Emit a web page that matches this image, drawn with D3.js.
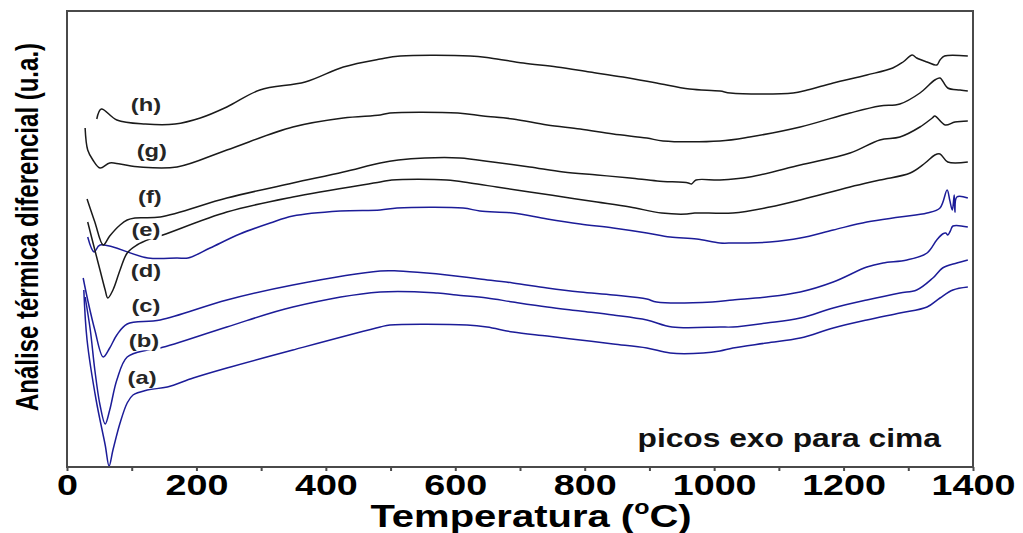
<!DOCTYPE html>
<html><head><meta charset="utf-8">
<script src="https://cdn.jsdelivr.net/npm/d3@7"></script>
<style>
body{margin:0;background:#fff;}
svg text{font-family:Arial,"Liberation Sans",sans-serif;font-weight:bold;}
</style></head><body>
<svg id="chart" width="1023" height="533"></svg>
<script>
// ---- data (temperature °C, DTA signal in arbitrary units) ----
const xTicks = [0,100,200,300,400,500,600,700,800,900,1000,1100,1200,1300,1400];
const xTickLabels = ["0","","200","","400","","600","","800","","1000","","1200","","1400"];
const seriesNames = ["(a)","(b)","(c)","(d)","(e)","(f)","(g)","(h)"];
const seriesColors = ["#1c1c98","#1c1c98","#1c1c98","#1c1c98","#1a1a1a","#1a1a1a","#1a1a1a","#1a1a1a"];

const curveA = [[26,177],[31,127],[45,67],[59,22],[65,1],[71,17],[82,44],[93,64],[102,72],[124,77],[155,80],[195,89],[247,99],[349,117],[484,140],[499,142],[618,142],[649,140],[689,135],[742,131],[793,127],[844,123],[896,119],[932,114],[983,114],[1009,116],[1029,119],[1081,124],[1133,129],[1184,139],[1236,147],[1287,154],[1329,160],[1349,169],[1369,177],[1392,180]];
const curveB = [[28,170],[36,137],[43,97],[51,62],[59,43],[66,57],[77,87],[93,110],[124,117],[144,119],[247,140],[349,160],[484,175],[573,174],[602,172],[649,169],[689,165],[742,160],[793,156],[844,152],[896,147],[935,140],[1009,140],[1029,140],[1081,144],[1133,149],[1184,159],[1236,167],[1287,174],[1313,177],[1338,189],[1353,199],[1375,204],[1392,207]];
const curveC = [[25,189],[32,167],[43,137],[56,110],[66,119],[77,132],[93,143],[144,147],[247,167],[349,182],[484,196],[512,196],[556,194],[587,192],[638,188],[689,184],[742,179],[793,175],[844,172],[896,168],[911,165],[997,165],[1029,167],[1081,170],[1133,175],[1184,185],[1236,200],[1261,204],[1298,207],[1329,214],[1344,227],[1353,233],[1358,234],[1361,232],[1365,236],[1369,241],[1392,240]];
const curveD = [[32,230],[42,215],[51,222],[125,209],[170,209],[187,209],[221,219],[267,233],[314,244],[349,251],[422,256],[484,257],[510,259],[612,259],[638,256],[689,254],[742,248],[793,243],[844,239],[896,234],[932,230],[973,228],[1009,224],[1029,224],[1051,224],[1086,225],[1133,229],[1184,237],[1236,245],[1287,250],[1329,254],[1349,259],[1360,277],[1364,267],[1368,257],[1371,272],[1372,255],[1375,270],[1392,269]];
const curveE = [[32,245],[43,217],[51,197],[59,177],[63,169],[71,177],[82,197],[93,214],[108,222],[128,228],[148,232],[247,255],[349,270],[484,285],[502,287],[587,287],[623,284],[664,280],[715,275],[767,270],[819,265],[870,260],[919,254],[958,253],[970,254],[1029,254],[1086,260],[1133,267],[1210,280],[1256,287],[1303,294],[1326,304],[1341,312],[1349,313],[1361,305],[1392,305]];
const curveF = [[31,268],[43,245],[56,222],[66,231],[82,242],[93,247],[105,249],[144,250],[247,269],[349,284],[427,295],[484,304],[512,307],[553,309],[607,309],[658,305],[715,300],[767,295],[819,292],[870,289],[912,286],[960,284],[965,283],[972,287],[1009,287],[1055,290],[1133,302],[1210,314],[1256,327],[1287,330],[1318,340],[1337,349],[1341,351],[1357,342],[1372,345],[1392,346]];
const curveG = [[28,339],[32,317],[40,307],[51,299],[66,304],[82,303],[113,300],[170,300],[247,317],[349,340],[427,349],[484,352],[499,354],[604,354],[643,351],[689,348],[742,342],[793,338],[844,333],[896,329],[921,326],[1009,326],[1055,330],[1133,340],[1210,354],[1256,361],[1287,363],[1318,374],[1341,387],[1349,389],[1361,379],[1380,377],[1392,376]];
const curveH = [[46,348],[53,358],[77,347],[121,343],[167,343],[206,349],[247,360],[298,377],[368,385],[427,400],[484,408],[515,411],[623,411],[654,409],[705,404],[757,400],[808,395],[859,390],[911,384],[962,378],[1009,376],[1025,374],[1122,374],[1144,377],[1184,384],[1236,392],[1276,399],[1292,405],[1306,412],[1313,409],[1329,405],[1344,402],[1349,407],[1356,411],[1392,411]];
const curves = [curveA,curveB,curveC,curveD,curveE,curveF,curveG,curveH];
// label anchor points (data units)
const labelAnchors = [[116,90],[119,127],[122,162],[122,197],[122,238],[128,271],[131,317],[122,363]];
const noteText = "picos exo para cima";
const noteAnchor = [1116,20];
const xTitle = ["Temperatura (","o","C)"];
const yTitle = "Análise térmica diferencial (u.a.)";

// ---- drawing ----
const svg = d3.select("#chart");
const x = d3.scaleLinear().domain([0,1400]).range([67,973]);
const y = d3.scaleLinear().domain([0,456]).range([467,11]);
const SX = 1.3; // horizontal stretch of the reference text

const line = d3.line().x(d=>x(d[0])).y(d=>y(d[1])).curve(d3.curveCatmullRom.alpha(0.5));
svg.append("g").selectAll("path").data(curves).join("path")
  .attr("d", line).attr("fill","none")
  .attr("stroke",(d,i)=>seriesColors[i]).attr("stroke-width",1.5)
  .attr("stroke-linejoin","round");

// labels with white knock-out boxes
const lg = svg.append("g").selectAll("g").data(seriesNames).join("g")
  .attr("transform",(d,i)=>`translate(${x(labelAnchors[i][0])},${y(labelAnchors[i][1])}) scale(1.25,1)`);
lg.append("text").text(d=>d).attr("text-anchor","middle").attr("dy","0.36em")
  .attr("font-size",19).attr("fill","#262626");
lg.each(function(){
  const g = d3.select(this);
  const b = g.select("text").node().getBBox();
  g.insert("rect","text").attr("x",b.x-1).attr("y",b.y+1).attr("width",b.width+2).attr("height",b.height-2).attr("fill","#fff");
});

// frame
svg.append("rect").attr("x",67).attr("y",11).attr("width",906).attr("height",456)
  .attr("fill","none").attr("stroke","#4a4a4a").attr("stroke-width",2);

// x axis
const ax = svg.append("g").attr("transform","translate(0,467)")
  .call(d3.axisBottom(x).tickValues(xTicks).tickFormat((d,i)=>xTickLabels[i]).tickSize(4).tickSizeOuter(0).tickPadding(3));
ax.select(".domain").remove();
ax.selectAll(".tick line").attr("stroke","#4a4a4a").attr("stroke-width",2);
ax.selectAll(".tick text").attr("font-size",29).attr("fill","#000")
  .attr("font-family","Arial, 'Liberation Sans', sans-serif").attr("font-weight","bold")
  .attr("transform",`scale(${SX},1)`);

// x title
const xt = svg.append("text").attr("transform",`translate(531,527) scale(1.25,1)`)
  .attr("text-anchor","middle").attr("font-size",32).attr("fill","#000");
xt.append("tspan").text(xTitle[0]);
xt.append("tspan").text(xTitle[1]).attr("font-size",20).attr("dy",-13);
xt.append("tspan").text(xTitle[2]).attr("dy",13);

// y title
svg.append("text").attr("transform",`translate(27,227) scale(${SX},1) rotate(-90)`)
  .attr("text-anchor","middle").attr("dy","0.35em").attr("font-size",24).attr("fill","#000")
  .text(yTitle);

// note
svg.append("text").attr("transform",`translate(${x(noteAnchor[0])},${y(noteAnchor[1])}) scale(1.27,1)`)
  .attr("text-anchor","middle").attr("font-size",25).attr("fill","#111").text(noteText);
</script>
</body></html>
